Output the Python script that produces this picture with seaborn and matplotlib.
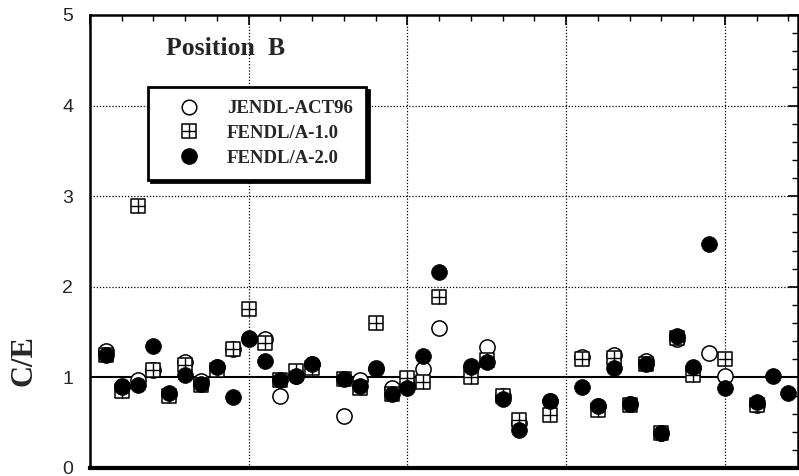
import numpy as np
import pandas as pd
import matplotlib
matplotlib.use("Agg")
import matplotlib.pyplot as plt
from matplotlib.lines import Line2D
from matplotlib.ticker import MultipleLocator
import seaborn as sns

# --- data (C/E per sample, NaN = not shown) ---
sample = [1, 2, 3, 4, 5, 6, 7, 8, 9, 10, 11, 12, 13, 14,
          16, 17, 18, 19, 20, 21, 22, 24, 25, 26, 27, 29,
          31, 32, 33, 34, 35, 36, 37, 38, 39, 40, 42, 43, 44]
jendl_act96 = [1.29, 0.90, 0.97, 1.08, 0.82, 1.17, 0.96, 1.12, 1.31, 1.42, 1.42, 0.79, 1.02, 1.15,
               0.57, 0.97, 1.10, 0.88, 0.92, 1.09, 1.55, 1.13, 1.34, 0.80, 0.50, 0.74,
               1.22, 0.68, 1.25, 0.71, 1.18, 0.39, 1.42, 1.10, 1.27, 1.01, 0.70, np.nan, np.nan]
fendl_a1 = [1.25, 0.85, 2.89, 1.08, 0.79, 1.14, 0.92, 1.08, 1.31, 1.75, 1.38, 0.97, 1.07, 1.10,
            0.98, 0.88, 1.60, 0.82, 0.99, 0.95, 1.89, 1.00, 1.19, 0.80, 0.53, 0.58,
            1.20, 0.64, 1.21, 0.69, 1.15, 0.39, 1.44, 1.03, np.nan, 1.20, 0.70, np.nan, np.nan]
fendl_a2 = [1.25, 0.89, 0.92, 1.35, 0.83, 1.03, 0.93, 1.11, 0.78, 1.43, 1.18, 0.97, 1.01, 1.15,
            0.98, 0.91, 1.09, 0.82, 0.88, 1.24, 2.16, 1.11, 1.17, 0.76, 0.42, 0.74,
            0.89, 0.68, 1.10, 0.71, 1.15, 0.39, 1.46, 1.11, 2.47, 0.88, 0.73, 1.02, 0.83]

df = pd.DataFrame({"sample": sample, "JENDL-ACT96": jendl_act96,
                   "FENDL/A-1.0": fendl_a1, "FENDL/A-2.0": fendl_a2})

sns.set_style("white")
plt.rcParams["font.family"] = ["Liberation Sans", "DejaVu Sans"]
SERIF = ["Liberation Serif", "DejaVu Serif"]

fig = plt.figure(figsize=(7.99, 4.76), dpi=100)
ax = fig.add_axes([90 / 799, 8 / 476, 708 / 799, 453 / 476])

# grid and reference line
for gx in [10, 20, 30, 40]:
    ax.axvline(gx, color="black", lw=0.9, ls=(0, (1, 1.5)), zorder=1)
for gy in [2, 3, 4]:
    ax.axhline(gy, color="black", lw=0.9, ls=(0, (1, 1.5)), zorder=1)
ax.axhline(1, color="black", lw=1.5, zorder=1)

# series
sns.scatterplot(data=df, x="sample", y="JENDL-ACT96", marker="o", s=120,
                color="white", edgecolor="black", linewidth=1.1, ax=ax, zorder=3)
sns.scatterplot(data=df, x="sample", y="FENDL/A-1.0", marker="s", s=100,
                color="white", edgecolor="black", linewidth=1.1, ax=ax, zorder=4)
sns.scatterplot(data=df, x="sample", y="FENDL/A-1.0", marker="+", s=100,
                color="black", linewidth=1.0, ax=ax, zorder=4)
sns.scatterplot(data=df, x="sample", y="FENDL/A-2.0", marker="o", s=130,
                color="black", edgecolor="black", linewidth=0.5, ax=ax, zorder=5)

ax.set_xlim(0, 44.6)
ax.set_ylim(0, 5)
ax.xaxis.set_major_locator(MultipleLocator(10))
ax.xaxis.set_minor_locator(MultipleLocator(2))
ax.yaxis.set_major_locator(MultipleLocator(1))
ax.yaxis.set_minor_locator(MultipleLocator(0.2))
ax.tick_params(axis="both", which="both", direction="in", top=True, right=True,
               color="black")
ax.tick_params(axis="both", which="major", length=7, width=1.2)
ax.tick_params(axis="both", which="minor", length=4, width=1.0)
ax.tick_params(axis="x", labelbottom=False)
ax.tick_params(axis="y", labelsize=14, pad=12)
for side in ["left", "top", "right"]:
    ax.spines[side].set_linewidth(1.8)
    ax.spines[side].set_color("black")
ax.spines["bottom"].set_linewidth(3)
ax.spines["bottom"].set_color("black")

ax.set_xlabel("")
ax.set_ylabel("C/E", family=SERIF, fontweight="bold", fontsize=22)
ax.yaxis.set_label_coords(-0.073, 0.238)

ax.text(0.107, 0.925, "Position  B", transform=ax.transAxes, family=SERIF,
        fontweight="bold", fontsize=18.5, va="center", ha="left")

# legend
h_open = Line2D([], [], marker="o", ls="", mfc="white", mec="black", ms=10.5, mew=1.1)
h_sq = Line2D([], [], marker="s", ls="", mfc="white", mec="black", ms=9.5, mew=1.1)
h_plus = Line2D([], [], marker="+", ls="", color="black", ms=9.5, mew=1.0)
h_fill = Line2D([], [], marker="o", ls="", mfc="black", mec="black", ms=11)
leg = ax.legend([h_open, (h_sq, h_plus), h_fill],
                ["JENDL-ACT96", "FENDL/A-1.0", "FENDL/A-2.0"],
                loc="upper left", bbox_to_anchor=(0.082, 0.841), borderaxespad=0,
                prop={"family": SERIF, "weight": "bold", "size": 13.5},
                frameon=True, fancybox=False, framealpha=1, edgecolor="black",
                borderpad=0.7, handlelength=3.0, handletextpad=0.5,
                labelspacing=0.4,
                shadow={"facecolor": "black", "edgecolor": "black", "alpha": 1})
leg.get_frame().set_linewidth(2)
leg.set_zorder(6)

fig.savefig("out.png", dpi=100)
